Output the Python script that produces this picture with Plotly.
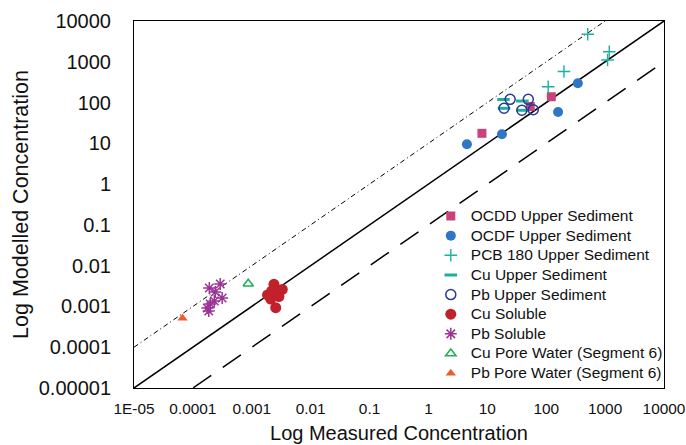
import plotly.graph_objects as go

# ---- data ----
ocdd_x = [122, 53.6, 8.1]
ocdd_y = [139, 80, 17.6]
ocdf_x = [344, 159, 17.7, 4.5]
ocdf_y = [297, 58.7, 16.7, 9.5]
pcb_x = [507, 1175, 1101, 200, 108]
pcb_y = [4720, 1766, 1107, 578, 245]
cu_up_x = [18.8, 19.2, 39.3, 39.3]
cu_up_y = [119, 72.3, 109, 64.6]
pb_up_x = [24.4, 19.2, 49.6, 38.6, 60.3]
pb_up_y = [120, 72.3, 120, 64.6, 66.8]
cu_sol_x = [2.38e-3, 3.30e-3, 1.85e-3, 2.89e-3, 2.55e-3, 2.18e-3, 2.10e-3]
cu_sol_y = [3.49e-3, 2.61e-3, 1.91e-3, 1.75e-3, 9.3e-4, 2.39e-3, 1.52e-3]
pb_sol_x = [1.90e-4, 2.91e-4, 2.40e-4, 3.14e-4, 2.31e-4, 1.97e-4, 1.76e-4, 1.86e-4]
pb_sol_y = [2.84e-3, 3.56e-3, 2.26e-3, 1.61e-3, 1.36e-3, 1.15e-3, 9.2e-4, 7.7e-4]
cu_pw_x = [8.7e-4]
cu_pw_y = [3.61e-3]
pb_pw_x = [6.67e-5]
pb_pw_y = [5.13e-4]

line_x = [1e-5, 1e4]
upper_factor = 10
lower_factor = 0.1

tick_vals = [1e-5, 1e-4, 1e-3, 1e-2, 1e-1, 1, 10, 100, 1000, 10000]
x_tick_text = ["1E-05", "0.0001", "0.001", "0.01", "0.1", "1", "10", "100", "1000", "10000"]
y_tick_text = ["0.00001", "0.0001", "0.001", "0.01", "0.1", "1", "10", "100", "1000", "10000"]

FONT = "Arial, Liberation Sans, sans-serif"

fig = go.Figure()

# reference lines
fig.add_trace(go.Scatter(x=line_x, y=line_x, mode="lines",
                         line=dict(color="black", width=1.5), showlegend=False, hoverinfo="skip"))
fig.add_trace(go.Scatter(x=line_x, y=[v * upper_factor for v in line_x], mode="lines",
                         line=dict(color="black", width=1, dash="5px,3px,1px,3px"),
                         showlegend=False, hoverinfo="skip"))
fig.add_trace(go.Scatter(x=line_x, y=[v * lower_factor for v in line_x], mode="lines",
                         line=dict(color="black", width=1.5, dash="22px,14px"),
                         showlegend=False, hoverinfo="skip"))

def add(x, y, name, symbol, color, size, lw=0, lcolor=None):
    fig.add_trace(go.Scatter(
        x=x, y=y, mode="markers",
        name='<span style="font-size:15.5px">' + name + '</span>',
        marker=dict(symbol=symbol, color=color, size=size,
                    line=dict(width=lw, color=lcolor or color)),
    ))

add(ocdd_x, ocdd_y, "OCDD Upper Sediment", "square", "#C8437C", 9)
add(ocdf_x, ocdf_y, "OCDF Upper Sediment", "circle", "#2F76C4", 10)
add(pcb_x, pcb_y, "PCB 180 Upper Sediment", "cross-thin-open", "#1CB0A2", 9, 1.4)
add(cu_up_x, cu_up_y, "Cu Upper Sediment", "line-ew-open", "#1CB0A2", 9, 3)
add(pb_up_x, pb_up_y, "Pb Upper Sediment", "circle-open", "#2B3990", 10, 1.5)
add(cu_sol_x, cu_sol_y, "Cu Soluble", "circle", "#C0212B", 11)
add(pb_sol_x, pb_sol_y, "Pb Soluble", "asterisk-open", "#9B3494", 10, 1.5)
add(cu_pw_x, cu_pw_y, "Cu Pore Water (Segment 6)", "triangle-up-open", "#22AE5A", 9, 1.6)
add(pb_pw_x, pb_pw_y, "Pb Pore Water (Segment 6)", "triangle-up", "#F15A29", 9)

axis_common = dict(type="log", range=[-5, 4], showgrid=False, zeroline=False,
                   showline=True, linecolor="black", linewidth=1, mirror=True,
                   ticks="", tickvals=tick_vals, automargin=False)

fig.update_layout(
    width=686, height=445,
    margin=dict(l=134, r=22, t=21, b=57),
    paper_bgcolor="white", plot_bgcolor="white",
    font=dict(family=FONT, color="#111111"),
    xaxis=dict(**axis_common, ticktext=x_tick_text, tickfont=dict(size=15.4),
               ticklabelstandoff=7,
               title=dict(text="Log Measured Concentration", font=dict(size=20), standoff=9)),
    yaxis=dict(**axis_common, ticktext=y_tick_text, tickfont=dict(size=20),
               ticklabelstandoff=18,
               title=dict(text="Log Modelled Concentration", font=dict(size=21.5), standoff=4)),
    legend=dict(x=0.56, y=0.509, xanchor="left", yanchor="top",
                font=dict(size=12.8, family=FONT), bgcolor="rgba(0,0,0,0)",
                itemwidth=30, tracegroupgap=0),
    showlegend=True,
)

fig.write_html("out.html", config={"displayModeBar": False},
               post_script="document.body.style.margin='0';document.body.style.overflow='hidden';")
